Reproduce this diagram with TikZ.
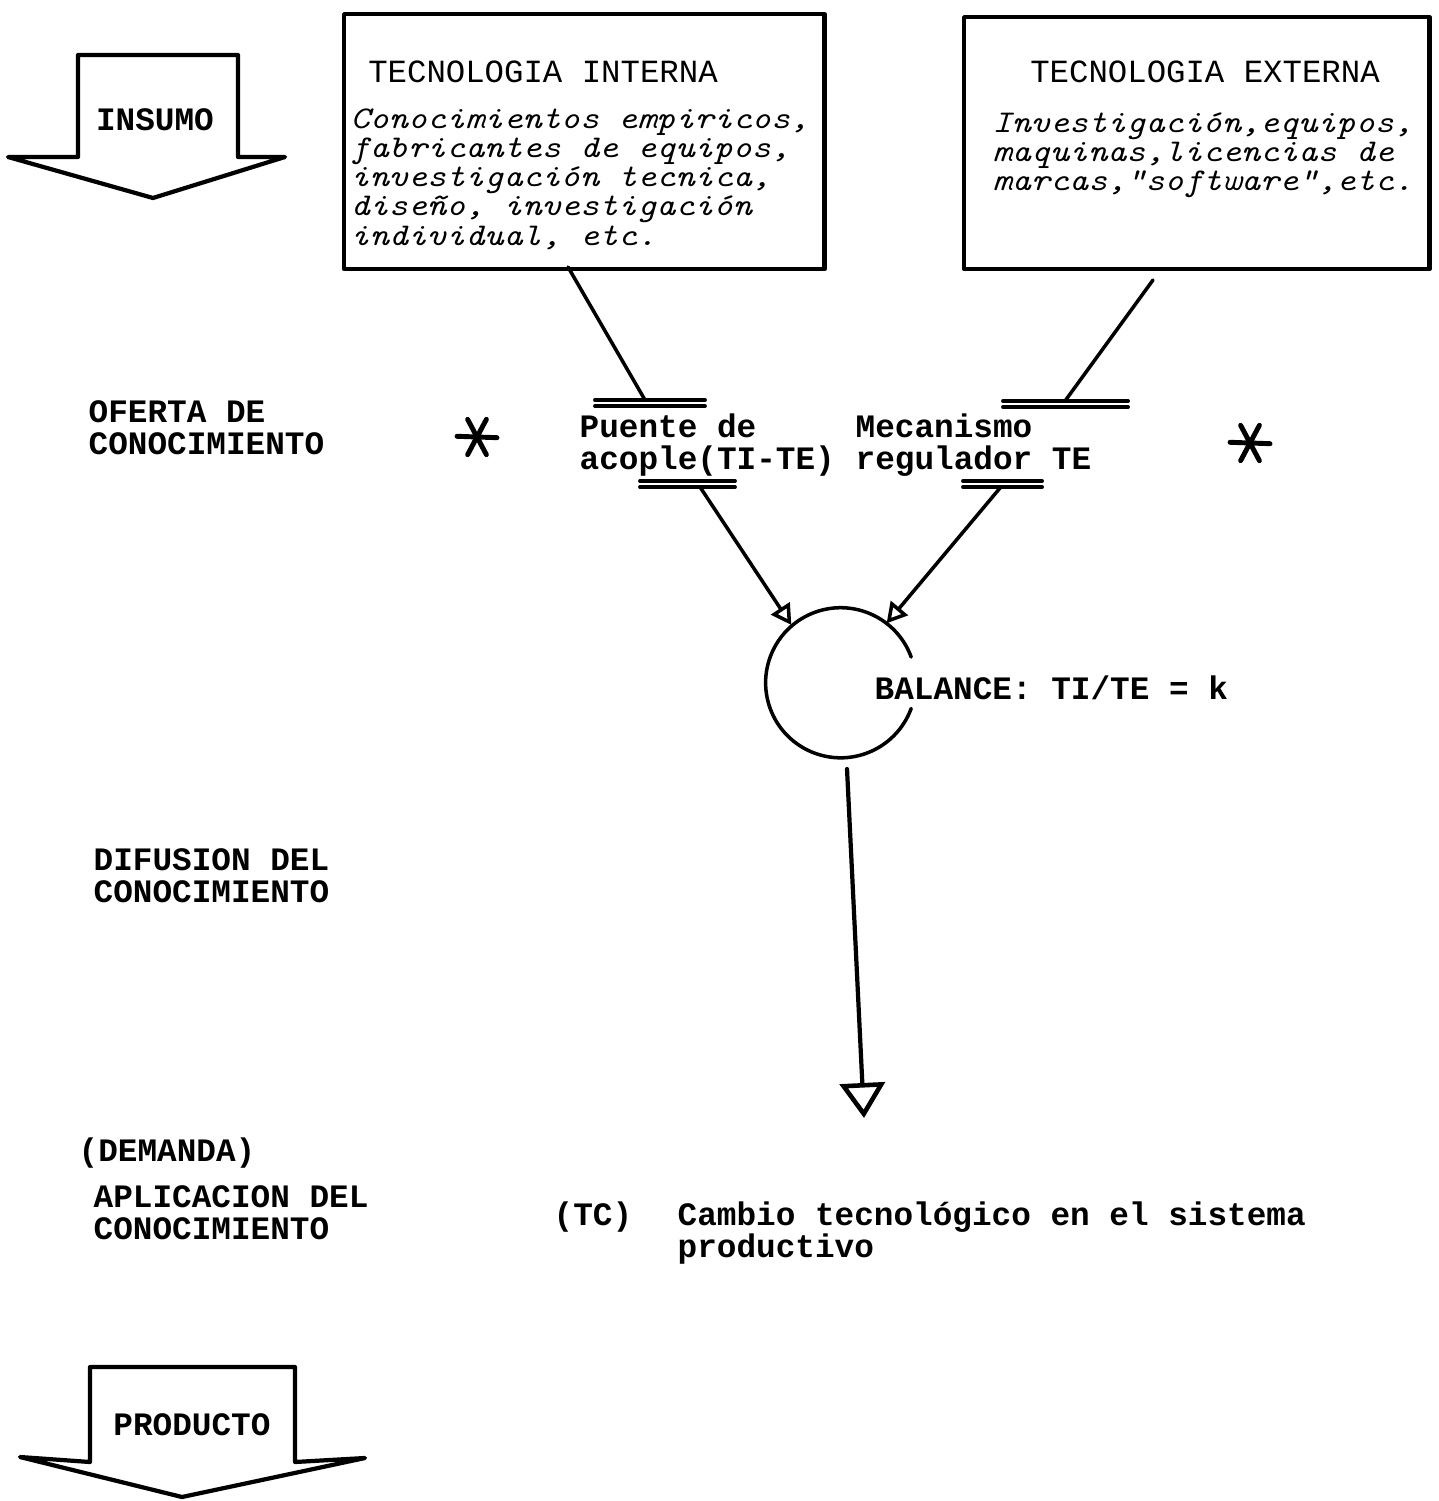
\documentclass[tikz,border=0pt]{standalone}
\usepackage{fontspec}
\usetikzlibrary{arrows.meta}
\newfontfamily\maquina{Liberation Mono}
\newfontfamily\cursiva{lmmono10-italic.otf}[FakeStretch=1.15]

% lines may come closer than their glyphs allow
\newcommand{\apretado}{\lineskiplimit-10pt\relax}
% double bar of a coupler, from x=#1 to x=#2 at height #3
\newcommand{\barra}[3]{%
  \draw[line width=1.1pt] (#1,#3) -- (#2,#3);
  \draw[line width=1.1pt] (#1,#3+6) -- (#2,#3+6);}
% hand drawn asterisk
\newcommand{\asterisco}[1]{%
  \foreach \a in {2,62,118}
    \draw[line width=1.4pt, shift={(#1)}] (\a:20) -- (\a+180:20);}

\begin{document}
\begin{tikzpicture}[x=0.01cm, y=-0.01cm, line cap=round, line join=round,
    caja/.style={draw, line width=1.2pt, inner sep=0pt, anchor=north west},
    rotulo/.style={inner sep=0pt, anchor=west, align=left,
      font={\maquina\bfseries\fontsize{9.3}{9.1}\selectfont\apretado}},
    titulo/.style={inner sep=0pt, font=\maquina\fontsize{9.2}{9}\selectfont},
    manuscrito/.style={inner sep=0pt, anchor=north west, align=left,
      font={\cursiva\fontsize{9}{8.3}\selectfont\apretado}},
    enlace/.style={line width=1pt},
    flecha/.style={line width=1pt,
      -{Triangle[open, length=0.2cm, width=0.22cm, line width=1pt]}},
    flechagrande/.style={line width=1.2pt,
      -{Triangle[open, length=0.35cm, width=0.45cm, line width=1.3pt]}}]
    \useasboundingbox (0,0) rectangle (1438,1501);

    % Draw INSUMO arrow
    \draw[line width=1.2pt] (78,55) -- (238,55) -- (238,157) -- (285,157)
      -- (153,198) -- (8,157) -- (78,157) -- cycle;
    \node[rotulo, anchor=center] (insumo) at (155,120) {INSUMO};

    % Draw PRODUCTO arrow
    \draw[line width=1.2pt] (90,1367) -- (295,1367) -- (295,1462) -- (365,1458)
      -- (182,1497) -- (20,1457) -- (90,1462) -- cycle;
    \node[rotulo, anchor=center] (producto) at (192,1425) {PRODUCTO};

    % Technology boxes
    \node[caja, minimum width=4.8cm, minimum height=2.55cm] (ti) at (342,12) {};
    \node[caja, minimum width=4.65cm, minimum height=2.52cm] (te) at (962,15) {};
    \node[titulo] (ti-titulo) at (543,72) {TECNOLOGIA INTERNA};
    \node[titulo] (te-titulo) at (1205,72) {TECNOLOGIA EXTERNA};
    \node[manuscrito] (ti-texto) at (350,108) {Conocimientos empiricos,\\
      fabricantes de equipos,\\ investigación tecnica,\\
      diseño, investigación\\ individual, etc.};
    \node[manuscrito] (te-texto) at (992,112) {Investigación,equipos,\\
      maquinas,licencias de\\ marcas,"software",etc.};

    % Couplers
    \barra{595}{705}{400}
    \barra{640}{735}{481}
    \barra{1003}{1128}{401}
    \barra{963}{1042}{481}
    \coordinate (ti-sal) at (568,267);
    \coordinate (pa-ent) at (645,400);
    \coordinate (pa-sal) at (700,487);
    \coordinate (te-sal) at (1153,280);
    \coordinate (mr-ent) at (1065,401);
    \coordinate (mr-sal) at (1000,488);

    % Balance circle
    \node[circle, inner sep=0pt, minimum size=1.5cm] (bal) at (840,683) {};
    \draw[enlace] (bal.20) arc[start angle=20, end angle=340, radius=0.75cm];

    % Connectors
    \draw[enlace] (ti-sal) -- (pa-ent);
    \draw[enlace] (te-sal) -- (mr-ent);
    \draw[flecha] (pa-sal) -- (bal.130);
    \draw[flecha] (mr-sal) -- (bal.52);
    \coordinate (bal-sal) at (847,769);
    \coordinate (tc) at (864,1118);
    \draw[flechagrande] (bal-sal) -- (tc);

    % Labels
    \node[rotulo] (oferta) at (88,428) {OFERTA DE\\CONOCIMIENTO};
    \node[rotulo] (difusion) at (93,876) {DIFUSION DEL\\CONOCIMIENTO};
    \node[rotulo] (demanda) at (78,1153) {(DEMANDA)};
    \node[rotulo] (aplicacion) at (93,1213) {APLICACION DEL\\CONOCIMIENTO};
    \node[rotulo] (puente) at (579,445) {Puente de\\acople(TI-TE)};
    \node[rotulo] (mecanismo) at (855,445) {Mecanismo\\regulador TE};
    \node[rotulo] (balance) at (874,688) {BALANCE: TI/TE = k};
    \node[rotulo] (tc-etq) at (553,1217) {(TC)};
    \node[rotulo] (cambio) at (677,1233) {Cambio tecnológico en el sistema\\productivo};

    % Asterisks
    \asterisco{477,437}
    \asterisco{1250,443}
\end{tikzpicture}
\end{document}
